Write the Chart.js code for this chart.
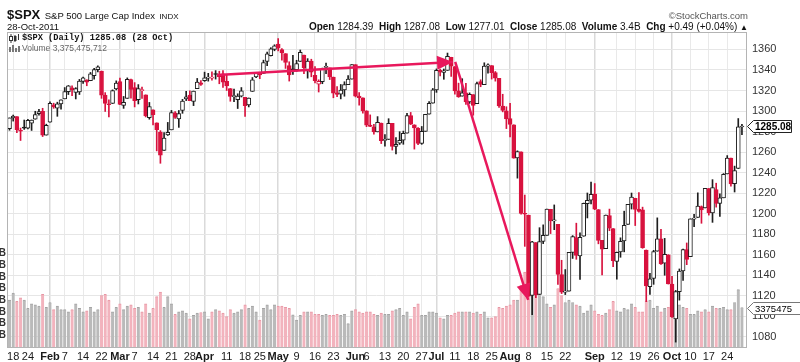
<!DOCTYPE html>
<html><head><meta charset="utf-8">
<script src="https://cdn.jsdelivr.net/npm/chart.js@4/dist/chart.umd.min.js"></script>
<style>
html,body{margin:0;padding:0;background:#fff;overflow:hidden;}
#wrap{position:relative;width:800px;height:362px;overflow:hidden;font-family:"Liberation Sans",Arial,sans-serif;color:#111;}
#c{position:absolute;left:0;top:0;}
.t{position:absolute;white-space:nowrap;line-height:1;}
</style></head><body>
<div id="wrap">
<canvas id="c" width="800" height="362"></canvas>
<div class="t" style="left:7px;top:6px;"><span style="font-size:13px;font-weight:bold">$SPX</span> <span style="font-size:9.5px">S&amp;P 500 Large Cap Index</span> <span style="font-size:8px">INDX</span></div>
<div class="t" style="left:7px;top:22px;font-size:9.5px">28-Oct-2011</div>
<div class="t" style="right:52px;top:11px;font-size:9.5px;color:#555">©StockCharts.com</div>
<div class="t" id="hdr" style="right:52px;top:22px;font-size:10px"></div>
<svg style="position:absolute;left:9px;top:34px" width="11" height="9"><line x1="2" y1="0" x2="2" y2="9" stroke="#333"/><rect x="0.5" y="2.5" width="3" height="4" fill="#fff" stroke="#333"/><line x1="6" y1="1" x2="6" y2="8" stroke="#333"/><rect x="5" y="2" width="2.5" height="5" fill="#333"/><line x1="9.5" y1="0" x2="9.5" y2="6" stroke="#333"/></svg>
<div class="t" id="leg1" style="left:22px;top:34px;font-family:'Liberation Mono',monospace;font-weight:bold;font-size:8.7px"></div>
<svg style="position:absolute;left:9px;top:44px" width="11" height="8"><rect x="0" y="3" width="2" height="5" fill="#777"/><rect x="3" y="1" width="2" height="7" fill="#777"/><rect x="6" y="4" width="2" height="4" fill="#777"/><rect x="9" y="2" width="2" height="6" fill="#777"/></svg>
<div class="t" id="leg2" style="left:22px;top:44px;font-size:8.5px;color:#666"></div>
</div>
<script>
// ---- data: S&P 500 daily, 14-Jan-2011 .. 28-Oct-2011 ----
const opens = [
1282.90,1293.22,1294.52,1280.85,1283.63,1283.29,1288.17,1291.97,1297.51,1299.63,1276.50,
1289.14,1305.91,1302.77,1307.01,1311.85,1318.76,1322.48,1318.13,1318.66,1328.73,1330.43,1329.51,1334.37,1340.38,1338.91,1315.44,1307.09,1307.34,1321.61,
1328.64,1305.47,1312.37,1330.73,1322.72,1311.05,1319.92,1315.72,1293.43,1301.19,1288.46,1279.46,1261.61,1276.71,1281.65,1298.29,1292.19,1300.61,1311.80,1315.45,1309.37,1321.89,1327.44,
1329.48,1332.03,1332.03,1335.94,1334.82,1336.16,1329.01,1321.96,1314.03,1311.13,1314.54,1313.35,1305.99,1319.12,1333.23,1337.14,1336.75,1348.43,1353.86,1360.14,
1365.21,1359.76,1355.90,1344.16,1340.24,1340.20,1348.34,1354.51,1339.39,1348.69,1334.77,1326.10,1328.54,1342.40,1342.00,1333.07,1317.70,1316.36,1320.64,1325.69,1331.10,
1345.20,1314.55,1312.94,1300.26,1286.31,1284.63,1279.63,1288.26,1271.31,1272.22,1287.87,1265.53,1268.58,1271.50,1278.40,1295.48,1286.60,1283.04,1268.44,1280.21,1296.85,1307.64,
1320.64,1339.59,1337.56,1339.62,1352.39,1343.31,1319.61,1314.45,1317.74,1308.87,1315.94,1307.07,1328.66,1325.65,1343.80,1344.32,1337.39,1331.91,1304.84,1300.12,
1292.59,1286.56,1254.25,1260.23,1200.28,1198.48,1120.23,1171.77,1121.30,1172.87,1178.86,1204.22,1192.89,1189.62,1140.47,1123.55,1124.36,1162.16,1176.69,1158.85,1177.91,1209.76,1213.00,
1219.12,1203.90,1173.97,1165.85,1197.98,1185.37,1153.50,1162.59,1173.32,1189.44,1209.21,1214.99,1204.50,1203.63,1164.55,1128.82,1136.91,1163.32,1175.39,1151.74,1159.93,
1131.21,1097.42,1124.03,1144.11,1165.03,1158.15,1194.60,1196.19,1206.96,1205.65,1224.47,1200.75,1223.46,1209.92,1215.39,1238.72,1254.19,1229.17,1243.97,1284.39];
const highs = [
1293.24,1296.06,1294.60,1283.35,1291.21,1291.93,1291.26,1299.74,1301.63,1302.67,1287.17,
1308.86,1307.61,1308.60,1311.00,1322.85,1324.87,1324.54,1322.76,1330.79,1332.96,1330.43,1337.61,1341.50,1344.07,1338.91,1317.91,1310.91,1320.61,1329.38,
1332.09,1314.19,1332.28,1331.08,1327.68,1325.74,1323.21,1315.72,1308.35,1301.19,1288.46,1280.91,1278.88,1288.88,1300.58,1299.35,1300.51,1311.34,1319.18,1319.74,1319.45,1331.74,1329.77,
1337.85,1336.74,1338.21,1339.38,1338.80,1339.46,1335.00,1321.96,1321.35,1316.79,1322.88,1313.35,1312.70,1332.66,1337.49,1337.55,1349.55,1357.49,1361.71,1364.56,
1370.58,1360.84,1355.90,1348.00,1354.36,1349.44,1359.44,1354.51,1351.05,1350.47,1343.33,1330.42,1341.82,1346.82,1342.00,1333.07,1323.72,1325.86,1328.51,1334.62,1345.20,
1345.20,1318.03,1312.94,1300.26,1296.22,1287.04,1294.54,1288.26,1277.04,1292.50,1287.87,1274.11,1279.82,1280.42,1297.62,1298.61,1286.60,1283.93,1284.91,1296.80,1309.21,1321.97,
1341.01,1340.89,1340.94,1356.48,1352.39,1343.31,1327.17,1331.48,1326.88,1317.70,1315.94,1328.14,1330.43,1347.00,1346.10,1344.32,1338.51,1331.91,1316.32,1304.16,
1307.38,1286.56,1261.20,1260.23,1218.11,1198.48,1172.88,1171.77,1186.29,1189.04,1204.49,1204.22,1208.47,1189.62,1154.54,1145.49,1162.35,1178.56,1190.68,1181.23,1210.28,1220.10,1230.71,
1229.29,1203.90,1173.97,1198.62,1204.40,1185.37,1162.52,1176.41,1202.38,1209.11,1220.06,1214.99,1220.39,1206.30,1164.55,1141.72,1164.19,1195.86,1184.71,1175.87,1159.93,
1138.99,1125.12,1146.07,1165.55,1171.40,1194.91,1199.24,1220.25,1207.46,1224.61,1224.47,1233.10,1229.64,1219.36,1239.03,1256.55,1254.19,1246.28,1292.66,1287.08];
const lows = [
1281.24,1290.16,1278.92,1271.26,1282.07,1282.47,1281.07,1291.97,1295.96,1275.10,1276.50,
1289.14,1302.62,1294.83,1301.67,1311.85,1316.03,1314.89,1311.74,1316.08,1326.90,1324.61,1329.51,1331.00,1338.12,1312.33,1299.55,1294.26,1307.34,1320.55,
1306.14,1302.58,1312.37,1312.59,1303.99,1306.86,1312.27,1294.21,1291.99,1286.37,1261.12,1249.05,1261.61,1276.18,1281.65,1292.70,1284.05,1297.74,1310.15,1310.19,1305.26,1321.89,1325.03,
1328.89,1329.10,1330.03,1331.09,1326.56,1322.94,1320.00,1309.51,1309.19,1302.42,1313.68,1294.70,1303.97,1319.12,1332.47,1331.47,1336.75,1344.25,1353.60,1358.69,
1358.59,1349.52,1341.50,1329.17,1335.58,1338.64,1348.34,1336.36,1332.03,1333.36,1327.32,1318.51,1326.59,1336.36,1330.67,1312.88,1313.87,1311.80,1314.41,1325.69,1331.10,
1313.71,1305.61,1297.90,1284.72,1284.74,1277.42,1279.63,1268.28,1265.64,1272.22,1261.90,1258.07,1267.40,1267.56,1278.40,1286.79,1262.87,1267.24,1267.53,1280.21,1296.85,1307.64,
1318.18,1334.30,1330.92,1339.62,1333.71,1316.42,1313.33,1314.45,1306.51,1307.35,1295.92,1307.07,1323.65,1325.65,1336.95,1331.09,1329.10,1303.49,1299.16,1282.86,
1274.73,1254.03,1234.56,1199.54,1168.09,1119.28,1101.54,1118.01,1121.30,1170.74,1178.86,1180.53,1184.36,1131.03,1122.05,1121.09,1124.36,1156.30,1155.47,1135.91,1177.91,1195.77,1209.35,
1203.85,1170.56,1140.13,1165.85,1183.34,1148.37,1136.07,1157.44,1162.73,1189.44,1204.46,1188.36,1201.29,1166.21,1114.22,1121.36,1131.07,1163.32,1150.40,1139.93,1131.34,
1098.92,1074.77,1115.68,1134.95,1150.26,1158.15,1187.30,1196.19,1190.58,1205.65,1198.55,1191.48,1206.31,1197.34,1215.39,1238.72,1226.79,1221.06,1243.97,1277.01];
const closes = [
1293.24,1295.02,1281.92,1280.26,1283.35,1290.84,1291.18,1296.63,1299.54,1276.34,1286.12,
1307.59,1304.03,1307.10,1310.87,1319.05,1324.57,1320.88,1321.87,1329.15,1332.32,1328.01,1336.32,1340.43,1343.01,1315.44,1307.40,1306.10,1319.88,1327.22,
1306.33,1308.44,1330.97,1321.15,1310.13,1321.82,1320.02,1295.11,1304.28,1296.39,1281.87,1256.88,1273.72,1279.21,1298.38,1293.77,1297.54,1309.66,1313.80,1310.19,1319.44,1328.26,1325.83,
1332.41,1332.87,1332.63,1335.54,1333.51,1328.17,1324.46,1314.16,1314.41,1314.52,1319.68,1305.14,1312.62,1330.36,1337.38,1335.25,1347.24,1355.66,1360.48,1363.61,
1361.22,1356.62,1347.32,1335.10,1340.20,1346.29,1357.16,1342.08,1348.65,1337.77,1329.47,1328.98,1340.68,1343.60,1333.27,1317.37,1316.28,1320.47,1325.69,1331.10,1345.20,
1314.55,1312.94,1300.16,1286.17,1284.94,1279.56,1289.00,1270.98,1271.83,1287.87,1265.42,1267.64,1271.50,1278.36,1295.52,1287.14,1283.50,1268.45,1280.10,1296.67,1307.41,1320.64,
1339.67,1337.88,1339.22,1353.22,1343.80,1319.49,1313.64,1317.72,1308.87,1316.14,1305.44,1326.73,1325.84,1343.80,1345.02,1337.43,1331.94,1304.89,1300.67,1292.28,
1286.94,1254.05,1260.34,1200.07,1199.38,1119.46,1172.53,1120.76,1172.64,1178.81,1204.49,1192.76,1193.89,1140.65,1123.53,1123.82,1162.35,1177.60,1159.27,1176.80,1210.08,1212.92,1218.89,
1204.42,1173.97,1165.24,1198.62,1185.90,1154.23,1162.27,1172.87,1188.68,1209.11,1216.01,1204.09,1202.09,1166.76,1129.56,1136.43,1162.95,1175.38,1151.06,1160.40,1131.42,
1099.23,1123.95,1144.03,1164.97,1155.46,1194.89,1195.54,1207.25,1203.66,1224.58,1200.86,1225.38,1209.88,1215.39,1238.25,1254.19,1229.05,1242.00,1284.59,1285.08];
// volume, billions of shares
const volumes = [
4.0,4.6,3.9,4.2,4.0,3.3,3.7,3.6,3.5,4.5,3.4,
3.8,3.2,3.5,3.2,3.2,3.0,3.2,3.7,3.3,3.0,3.1,3.4,3.0,3.2,4.4,4.5,4.0,3.0,3.4,
3.7,3.2,3.5,3.6,3.3,3.4,3.0,3.7,2.9,3.3,4.3,4.7,3.4,4.3,3.7,2.8,3.0,3.1,2.9,2.4,2.7,2.9,2.95,
3.0,2.4,3.0,3.2,3.1,2.9,2.6,3.2,2.9,3.0,3.2,3.6,3.3,3.5,3.0,2.3,3.3,3.6,3.2,3.6,
3.5,3.5,3.4,3.3,2.75,2.3,2.7,3.0,3.0,3.0,2.8,2.8,2.7,2.8,2.7,2.7,2.8,2.7,2.8,2.0,3.1,
3.2,3.0,2.9,3.0,3.0,2.8,2.7,2.9,2.8,2.8,3.1,3.2,3.3,2.7,3.0,2.4,3.4,3.7,2.7,2.7,3.0,3.0,
2.9,2.5,2.4,2.7,2.7,2.9,3.0,3.0,3.0,3.0,2.9,3.0,2.8,3.0,2.5,2.5,2.6,3.4,3.3,3.5,
3.6,4.0,4.0,5.3,6.4,7.5,7.0,6.5,5.7,4.3,3.7,3.4,3.6,5.0,4.4,3.8,4.0,3.8,3.6,3.5,2.9,3.1,3.6,
3.1,2.8,2.7,2.9,3.2,3.9,3.1,3.0,3.3,3.2,3.7,3.4,3.0,3.0,3.95,4.0,3.3,3.5,3.0,3.3,3.4,
3.9,4.4,3.6,3.4,3.3,2.8,2.8,3.1,3.0,3.2,3.0,3.5,3.3,3.3,3.4,3.2,3.2,3.8,4.9,3.375475712];
const lastVolume = 3375475712;
// x-axis ticks: trading-day index and label
const tickIdx  = [1,5,11,15,20,25,30,34,39,44,49,53,59,64,68,73,78,83,88,94,97,102,107,112,116,121,126,131,136,141,146,151,159,165,170,175,180,185,190,195];
const tickText = ["18","24","Feb","7","14","22","Mar","7","14","21","28","Apr","11","18","25","May","9","16","23","Jun","6","13","20","27","Jul","11","18","25","Aug","8","15","22","Sep","12","19","26","Oct","10","17","24"];
const priceTicks = [1080,1100,1120,1140,1160,1180,1200,1220,1240,1260,1280,1300,1320,1340,1360];
const volTicks = [1,2,3,4,5,6,7,8];
// annotation arrows (trading-day index, price)
const arrowFromX = [56.4, 121.1];
const arrowFromY = [1335.1, 1347.8];
const arrowToX   = [120.5, 140.9];
const arrowToY   = [1347.8, 1115.9];

// ---- styles ----
const RED = '#d8123e', BLACK = '#1e1e1e', ARROW = '#e8185c';
const N = closes.length;
const isUp = closes.map((c,i)=> i===0 ? c >= opens[0] : c >= closes[i-1]);
const candleCol = isUp.map(u => u ? BLACK : RED);
const bodyFill = closes.map((c,i)=> c >= opens[i] ? '#ffffff' : candleCol[i]);
const volFill = isUp.map(u => u ? '#bababa' : '#f2b3bd');
const volLine = isUp.map(u => u ? '#a3a3a3' : '#e797a4');

// ---- header texts from data ----
const last = N-1;
const chg = closes[last]-closes[last-1];
document.getElementById('hdr').innerHTML =
  '<b>Open</b> '+opens[last].toFixed(2)+' &nbsp;<b>High</b> '+highs[last].toFixed(2)+' &nbsp;<b>Low</b> '+lows[last].toFixed(2)+
  ' &nbsp;<b>Close</b> '+closes[last].toFixed(2)+' &nbsp;<b>Volume</b> '+(lastVolume/1e9).toFixed(1)+'B &nbsp;<b>Chg</b> '+
  (chg>=0?'+':'')+chg.toFixed(2)+' ('+(chg>=0?'+':'')+(chg/closes[last-1]*100).toFixed(2)+'%) <span style="font-size:8px">&#9650;</span>';
document.getElementById('leg1').textContent = '$SPX (Daily) '+closes[last].toFixed(2)+' (28 Oct)';
document.getElementById('leg2').textContent = 'Volume '+lastVolume.toLocaleString('en-US');

Chart.defaults.font.family = '"Liberation Sans", Arial, sans-serif';
const isMonth = i => isNaN(Number(tickText[i]));

const frame = {
  id:'frame',
  afterDraw(chart){
    const {ctx, chartArea:a, scales} = chart;
    ctx.save();
    ctx.strokeStyle = '#b4b4b4'; ctx.lineWidth = 1;
    ctx.strokeRect(Math.round(a.left)+0.5, Math.round(a.top)+0.5, Math.round(a.right-a.left), Math.round(a.bottom-a.top));
    // arrow heads
    for (let k=0;k<arrowToX.length;k++){
      const x0 = scales.x.getPixelForValue(arrowFromX[k]), y0 = scales.y.getPixelForValue(arrowFromY[k]);
      const x1 = scales.x.getPixelForValue(arrowToX[k]),   y1 = scales.y.getPixelForValue(arrowToY[k]);
      const ang = Math.atan2(y1-y0, x1-x0), L = 16, W = 7;
      ctx.fillStyle = ARROW;
      ctx.beginPath();
      ctx.moveTo(x1, y1);
      ctx.lineTo(x1 - L*Math.cos(ang) + W*Math.sin(ang), y1 - L*Math.sin(ang) - W*Math.cos(ang));
      ctx.lineTo(x1 - L*Math.cos(ang) - W*Math.sin(ang), y1 - L*Math.sin(ang) + W*Math.cos(ang));
      ctx.closePath(); ctx.fill();
    }
    // value tags on the right
    const tag = (y, text, col, font, w) => {
      const x = Math.round(a.right)+1;
      ctx.beginPath();
      ctx.moveTo(x+0.5, y+0.5); ctx.lineTo(x+6.5, y-5.5); ctx.lineTo(x+6.5+w, y-5.5);
      ctx.lineTo(x+6.5+w, y+6.5); ctx.lineTo(x+6.5, y+6.5); ctx.closePath();
      ctx.fillStyle = '#fff'; ctx.fill();
      ctx.strokeStyle = col; ctx.lineWidth = 1; ctx.stroke();
      ctx.fillStyle = '#000'; ctx.font = font; ctx.textBaseline = 'middle'; ctx.textAlign = 'left';
      ctx.fillText(text, x+8, y+1);
    };
    tag(Math.round(scales.y.getPixelForValue(closes[last])), closes[last].toFixed(2), '#222', 'bold 10px "Liberation Sans"', 38);
    tag(Math.round(scales.yv.getPixelForValue(volumes[last])), String(Math.floor(lastVolume/1000)), '#777', '9.5px "Liberation Sans"', 60);
    ctx.restore();
  }
};

new Chart(document.getElementById('c'), {
  type:'bar',
  data:{ datasets:[
    {type:'line', data:[{x:arrowFromX[0],y:arrowFromY[0]},{x:arrowToX[0],y:arrowToY[0]}], borderColor:ARROW, borderWidth:2.5, pointRadius:0, order:0, yAxisID:'y'},
    {type:'line', data:[{x:arrowFromX[1],y:arrowFromY[1]},{x:arrowToX[1],y:arrowToY[1]}], borderColor:ARROW, borderWidth:2.5, pointRadius:0, order:0, yAxisID:'y'},
    {type:'bar', data:opens.map((o,i)=>({x:i,y:[o,closes[i]]})), backgroundColor:bodyFill, borderColor:candleCol, borderWidth:1, borderSkipped:false, barThickness:4, minBarLength:1, grouped:false, order:1, yAxisID:'y'},
    {type:'bar', data:lows.map((l,i)=>({x:i,y:[l,highs[i]]})), backgroundColor:candleCol, borderWidth:0, barThickness:1, grouped:false, order:2, yAxisID:'y'},
    {type:'bar', data:volumes.map((v,i)=>({x:i,y:v})), backgroundColor:volFill, borderColor:volLine, borderWidth:{top:1,left:0,right:0,bottom:0}, borderSkipped:false, barThickness:3, grouped:false, order:3, yAxisID:'yv'}
  ]},
  options:{
    responsive:false, animation:false, events:[],
    layout:{padding:{top:32,left:0,right:0,bottom:0}},
    plugins:{legend:{display:false}, tooltip:{enabled:false}},
    scales:{
      x:{type:'linear', min:-0.68, max:200.1, offset:false,
         afterBuildTicks:s=>{ s.ticks = tickIdx.map(v=>({value:v})); },
         afterFit:s=>{ s.height = 15; },
         ticks:{autoSkip:false, maxRotation:0, padding:3, color:'#1a1a1a',
                callback:(v,i)=>tickText[i],
                font:c=>({size:11, weight: isMonth(c.index) ? 'bold':'normal'})},
         grid:{offset:false, drawTicks:false,
               color:c=> isMonth(c.index) ? '#dadada' : '#e9e9e9',
               lineWidth:c=> isMonth(c.index) ? 1.5 : 1},
         border:{display:false}},
      y:{type:'linear', position:'right', min:1070, max:1377,
         afterBuildTicks:s=>{ s.ticks = priceTicks.map(v=>({value:v})); },
         afterFit:s=>{ s.width = 54; },
         ticks:{padding:6, color:'#333', font:{size:11}, callback:v=>String(v)},
         grid:{color:'#e6e6e6', drawTicks:false}, border:{display:false}},
      yv:{type:'linear', position:'left', min:0, max:26.92,
          afterBuildTicks:s=>{ s.ticks = volTicks.map(v=>({value:v})); },
          afterFit:s=>{ s.width = 7; },
          ticks:{padding:1, color:'#333', font:{size:10, weight:'bold'}, callback:v=>v.toFixed(1)+'B'},
          grid:{display:false, drawTicks:false}, border:{display:false}}
    }
  },
  plugins:[frame]
});
</script>
</body></html>
